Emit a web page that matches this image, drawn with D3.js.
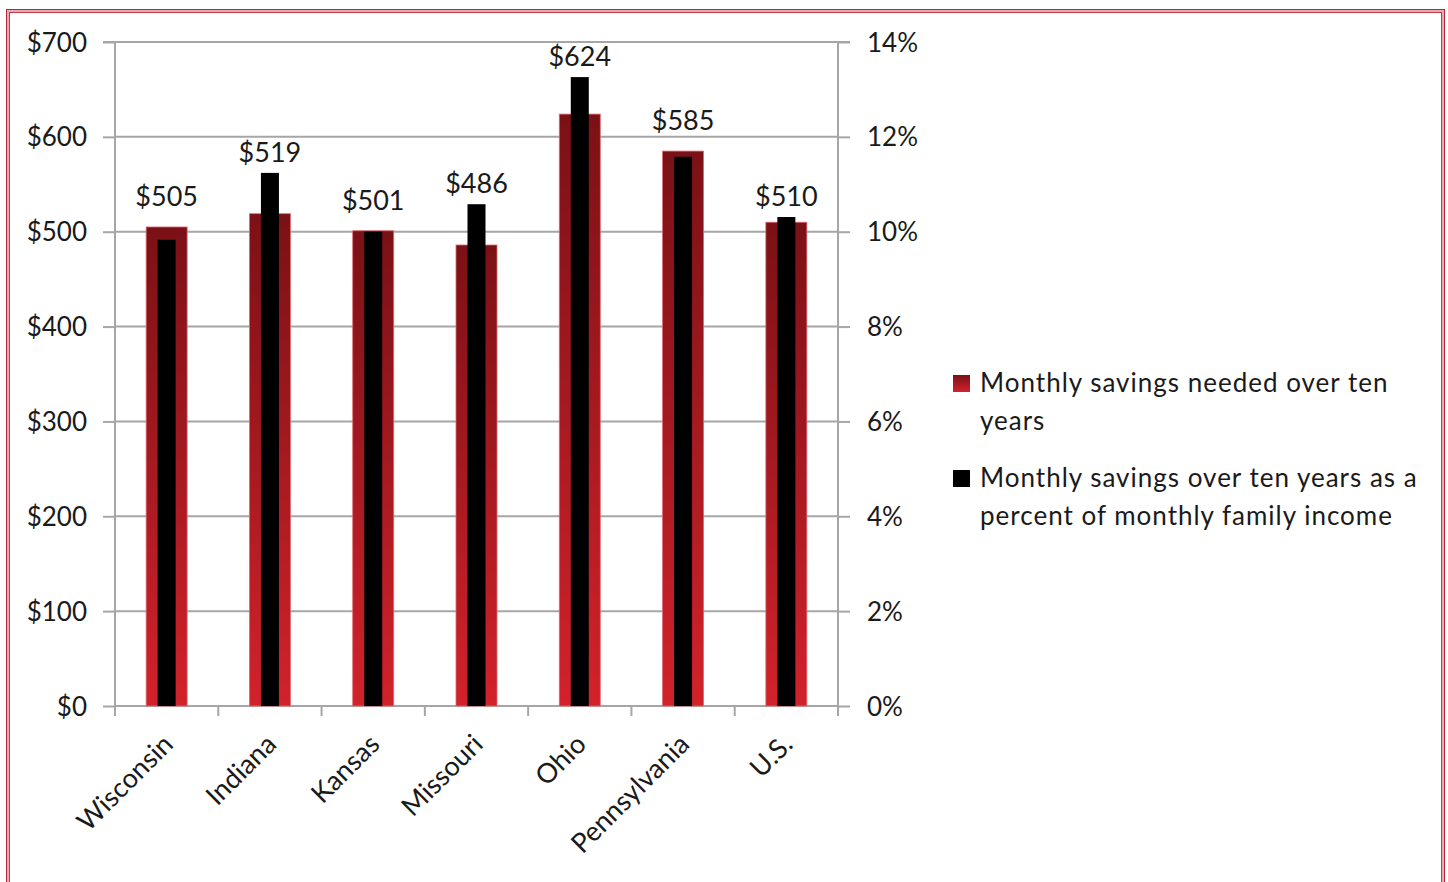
<!DOCTYPE html>
<html><head><meta charset="utf-8">
<script src="https://cdn.jsdelivr.net/npm/d3@7"></script>
<style>body{margin:0;background:#fff;}svg{display:block;}text{font-family:Lato,"Open Sans",sans-serif;fill:#1a1a1a;}</style>
</head><body><svg id="c" width="1448" height="882"></svg>
<script>
const categories = ["Wisconsin","Indiana","Kansas","Missouri","Ohio","Pennsylvania","U.S."];
const savingsNeeded = [505,519,501,486,624,585,510];
const savingsPctIncome = [9.83,11.24,10.0,10.58,13.26,11.58,10.31];
const leftTicks = [0,100,200,300,400,500,600,700];
const rightTicks = [0,2,4,6,8,10,12,14];
const legendLabels = [["Monthly savings needed over ten","years"],["Monthly savings over ten years as a","percent of monthly family income"]];

const svg = d3.select("#c");
const defs = svg.append("defs");
const g1 = defs.append("linearGradient").attr("id","redg").attr("x1",0).attr("y1",0).attr("x2",0).attr("y2",1);
g1.append("stop").attr("offset","0%").attr("stop-color","#7a1116");
g1.append("stop").attr("offset","100%").attr("stop-color","#d2222b");

// border
svg.append("rect").attr("x",8).attr("y",11).attr("width",1435).attr("height",900).attr("fill","none").attr("stroke","#e7a9b2").attr("stroke-width",3);
svg.append("rect").attr("x",6.5).attr("y",9.5).attr("width",1438).attr("height",900).attr("fill","none").attr("stroke","#b8283c").attr("stroke-width",1);
svg.append("rect").attr("x",9.5).attr("y",12.5).attr("width",1432).attr("height",900).attr("fill","none").attr("stroke","#c4384b").attr("stroke-width",1);

const L=115,R=838,T=42,B=706;
const x = d3.scaleBand().domain(categories).range([L,R]).padding(0);
const yL = d3.scaleLinear().domain([0,700]).range([B,T]);
const yR = d3.scaleLinear().domain([0,14]).range([B,T]);
const gray="#a6a6a6";
const fs = "26px";

// gridlines
svg.append("g").selectAll("line").data(leftTicks.filter(d=>d>0)).join("line")
 .attr("x1",L).attr("x2",R).attr("y1",d=>yL(d)).attr("y2",d=>yL(d)).attr("stroke",gray).attr("stroke-width",2);

// left axis
const ax = svg.append("g").attr("transform",`translate(${L},0)`).call(d3.axisLeft(yL).tickValues(leftTicks).tickFormat(d=>"$"+d).tickSize(12).tickPadding(16));
ax.select(".domain").attr("stroke",gray).attr("stroke-width",2).attr("d",`M-12,${T}H0V${B}`);
ax.selectAll(".tick line").attr("stroke",gray).attr("stroke-width",2);
ax.selectAll(".tick text").style("font-size",fs).attr("fill","#1a1a1a").attr("dy","0.35em");

// right axis
const axr = svg.append("g").attr("transform",`translate(${R},0)`).call(d3.axisRight(yR).tickValues(rightTicks).tickFormat(d=>d+"%").tickSize(12).tickPadding(17));
axr.select(".domain").attr("stroke",gray).attr("stroke-width",2).attr("d",`M12,${T}H0V${B}`);
axr.selectAll(".tick line").attr("stroke",gray).attr("stroke-width",2);
axr.selectAll(".tick text").style("font-size",fs).attr("fill","#1a1a1a").attr("dy","0.35em");

// bottom axis
svg.append("line").attr("x1",L).attr("x2",R).attr("y1",B).attr("y2",B).attr("stroke",gray).attr("stroke-width",2);
const bounds = categories.map(c=>x(c)).concat([x(categories[categories.length-1])+x.bandwidth()]);
svg.append("g").selectAll("line").data(bounds).join("line")
 .attr("x1",d=>d).attr("x2",d=>d).attr("y1",B).attr("y2",B+10).attr("stroke",gray).attr("stroke-width",2);

// bars
const bw = x.bandwidth();
const redW = 41, blkW = 18;
svg.append("g").selectAll("rect").data(categories).join("rect")
 .attr("x",(d)=>x(d)+bw/2-redW/2).attr("width",redW)
 .attr("y",(d,i)=>yL(savingsNeeded[i])).attr("height",(d,i)=>B-yL(savingsNeeded[i]))
 .attr("fill","url(#redg)").attr("stroke","#e06a72").attr("stroke-width",0.8);
svg.append("g").selectAll("rect").data(categories).join("rect")
 .attr("x",(d)=>x(d)+bw/2-blkW/2).attr("width",blkW)
 .attr("y",(d,i)=>yR(savingsPctIncome[i])).attr("height",(d,i)=>B-yR(savingsPctIncome[i]))
 .attr("fill","#000");

// value labels (above the taller of the two bars)
svg.append("g").selectAll("text").data(categories).join("text")
 .attr("x",d=>x(d)+bw/2)
 .attr("y",(d,i)=>{
   const r = yL(savingsNeeded[i]), k = yR(savingsPctIncome[i]);
   return r <= k ? r - 21 : k - 11;
 })
 .attr("text-anchor","middle").style("font-size","27px").text((d,i)=>"$"+savingsNeeded[i]);

// category labels
svg.append("g").selectAll("text").data(categories).join("text")
 .attr("transform",d=>`translate(${x(d)+bw/2+8},${B+40}) rotate(-45)`)
 .attr("text-anchor","end").style("font-size","27px").text(d=>d);

// legend
const legY=[383,478];
const lg = svg.append("g");
lg.selectAll("rect").data(legendLabels).join("rect")
 .attr("x",953).attr("y",(d,i)=>legY[i]-8).attr("width",17).attr("height",17)
 .attr("fill",(d,i)=>i===0?"url(#redg)":"#000");
legendLabels.forEach((lines,i)=>{
  const t = lg.append("text").attr("x",980).attr("y",legY[i]+9).style("font-size","26px").style("letter-spacing","1px");
  lines.forEach((ln,j)=>t.append("tspan").attr("x",980).attr("dy",j===0?0:38).text(ln));
});
</script></body></html>
